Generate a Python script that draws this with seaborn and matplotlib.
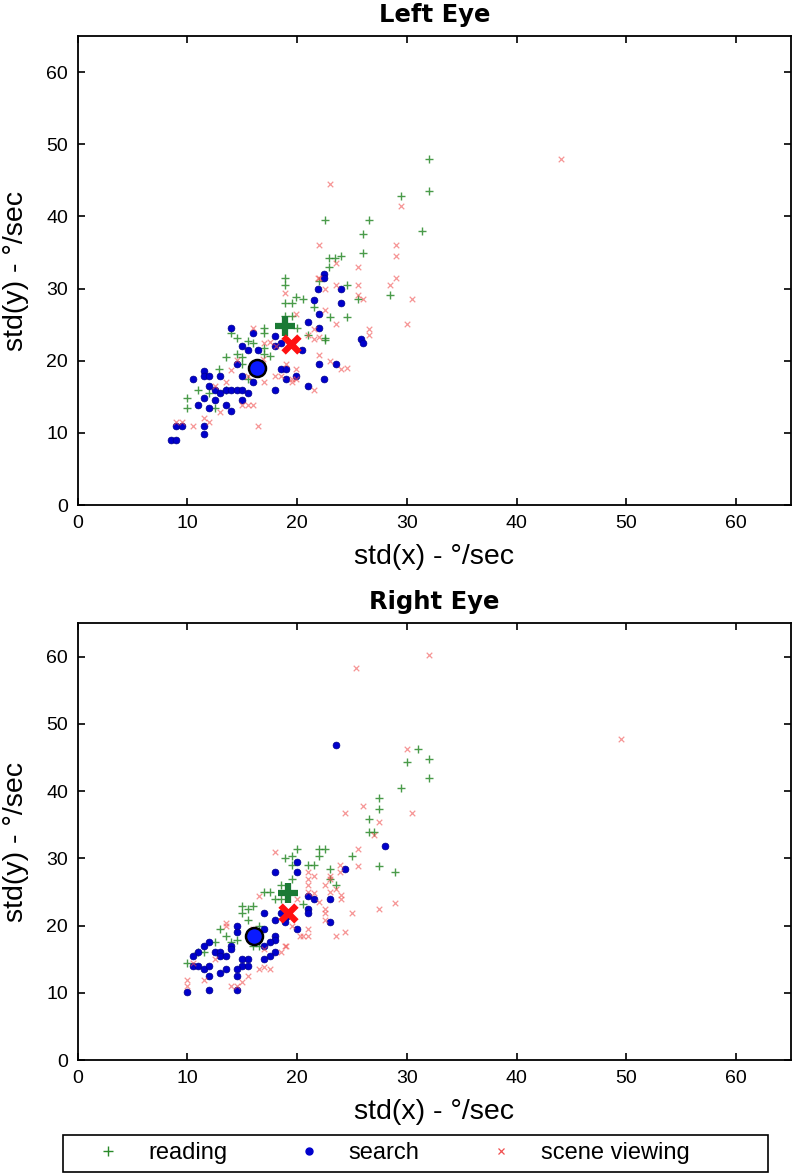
import numpy as np
import pandas as pd
import matplotlib.pyplot as plt
from matplotlib.patches import Rectangle
from matplotlib.lines import Line2D
import seaborn as sns

# ---- data (std(x), std(y) in deg/sec) ----
left_reading = [
    (32.0, 48.0), (32.0, 43.5), (29.5, 42.9), (22.5, 39.5), (26.5, 39.5), (26.0, 37.5),
    (31.4, 38.0), (26.0, 35.0), (22.9, 34.2), (23.4, 34.2), (22.9, 33.0), (24.0, 34.5),
    (22.0, 31.0), (24.5, 30.5), (25.5, 28.5), (28.5, 29.1), (20.5, 28.5), (21.5, 27.5),
    (23.0, 26.0), (24.5, 26.0), (22.5, 23.1), (21.0, 23.5), (18.9, 31.5), (18.9, 30.5),
    (19.9, 28.9), (18.9, 28.0), (19.5, 28.0), (18.9, 26.2), (19.5, 26.2), (20.0, 24.5),
    (14.0, 23.8), (17.0, 24.5), (17.0, 23.9), (14.5, 23.1), (22.5, 22.9), (17.0, 21.8),
    (17.0, 21.0), (17.5, 20.7), (13.5, 20.5), (14.5, 21.0), (15.0, 20.5), (15.0, 19.5),
    (12.9, 18.9), (10.0, 14.9), (10.0, 13.5), (12.5, 13.5), (15.5, 17.5), (13.5, 16.0),
    (16.0, 22.5), (15.5, 22.8), (12.0, 15.5), (11.0, 16.0),
]
left_search = [
    (22.4, 32.0), (22.4, 31.4), (21.9, 30.0), (24.0, 30.0), (21.5, 28.4), (24.0, 28.0),
    (22.0, 26.5), (21.0, 25.4), (14.0, 24.5), (16.0, 23.9), (22.0, 24.5), (18.0, 23.4),
    (18.0, 22.1), (18.5, 22.5), (15.0, 22.1), (15.5, 21.5), (16.4, 21.5), (20.4, 21.5),
    (14.5, 19.5), (18.5, 18.9), (19.0, 18.9), (22.0, 19.5), (23.5, 19.5), (11.5, 18.6),
    (11.5, 17.9), (12.0, 17.9), (13.0, 17.9), (10.5, 17.5), (15.0, 17.9), (16.0, 17.0),
    (19.0, 17.5), (19.9, 17.9), (22.4, 17.5), (21.0, 16.5), (12.0, 16.5), (12.5, 15.9),
    (13.0, 15.5), (13.5, 15.9), (14.0, 15.9), (14.5, 15.9), (15.0, 15.9), (15.5, 15.5),
    (18.0, 15.9), (11.5, 14.9), (11.0, 13.9), (12.0, 13.5), (12.5, 14.5), (13.5, 13.9),
    (14.0, 13.0), (15.0, 14.5), (9.0, 11.0), (9.5, 11.0), (11.5, 11.0), (11.5, 9.9),
    (8.5, 9.0), (9.0, 9.0), (25.8, 23.0), (26.0, 22.5),
]
left_scene = [
    (44.0, 48.0), (23.0, 44.5), (29.5, 41.5), (22.0, 36.0), (29.0, 36.0), (29.0, 34.5),
    (23.5, 33.5), (25.5, 33.0), (22.0, 31.4), (29.0, 31.4), (23.5, 30.5), (25.5, 30.5),
    (28.5, 30.5), (22.5, 30.0), (25.5, 29.1), (26.0, 28.5), (30.5, 28.5), (22.5, 27.0),
    (23.5, 25.1), (30.0, 25.1), (21.5, 24.4), (26.5, 24.4), (26.5, 23.5), (21.0, 23.5),
    (18.9, 29.4), (21.9, 31.4), (19.9, 26.5), (16.0, 24.5), (21.5, 23.0), (22.0, 23.3),
    (17.5, 22.6), (17.0, 22.4), (18.1, 22.1), (16.9, 20.2), (14.5, 20.1), (14.0, 18.7),
    (19.0, 19.6), (19.9, 18.9), (23.0, 19.9), (24.0, 18.9), (22.0, 20.8), (18.0, 17.9),
    (18.5, 17.9), (19.5, 17.5), (19.9, 17.5), (19.5, 17.0), (17.0, 17.0), (15.0, 13.9),
    (15.5, 13.9), (16.0, 13.9), (13.0, 12.9), (9.0, 11.5), (9.5, 11.5), (10.5, 11.0),
    (11.5, 12.0), (12.0, 11.5), (16.4, 11.0), (12.5, 16.5), (13.5, 17.0), (15.5, 17.9),
    (21.5, 16.0), (24.5, 19.0),
]

right_reading = [
    (31.0, 46.3), (30.0, 44.3), (32.0, 44.8), (32.0, 41.9), (29.5, 40.4), (27.5, 38.9),
    (27.5, 37.4), (26.5, 35.9), (26.5, 33.9), (27.0, 33.9), (25.0, 30.4), (27.5, 28.9),
    (28.9, 27.9), (23.0, 28.4), (20.0, 31.4), (22.0, 31.4), (22.5, 31.4), (22.0, 30.4),
    (19.5, 30.4), (18.9, 30.0), (19.5, 29.0), (21.0, 29.0), (21.5, 29.0), (19.5, 26.9),
    (18.5, 26.0), (17.0, 25.0), (17.5, 25.0), (23.5, 26.0), (23.0, 26.9), (20.5, 23.2),
    (18.0, 24.0), (18.5, 24.0), (15.5, 22.5), (16.0, 22.9), (15.0, 22.9), (15.0, 21.9),
    (15.5, 20.9), (16.5, 20.0), (13.0, 19.5), (13.5, 18.5), (14.0, 17.5), (14.5, 17.8),
    (16.0, 17.0), (16.5, 17.0), (11.0, 16.0), (11.5, 16.0), (10.0, 14.5), (12.5, 17.5),
]
right_search = [
    (23.5, 46.9), (28.0, 31.9), (24.4, 28.4), (20.0, 29.4), (18.0, 27.9), (20.0, 27.9),
    (21.0, 24.4), (21.5, 23.9), (23.0, 23.9), (21.0, 22.4), (21.0, 21.9), (23.0, 20.5),
    (20.0, 19.5), (17.0, 21.9), (18.0, 20.9), (18.9, 20.6), (18.5, 21.9), (19.0, 21.3),
    (14.5, 20.0), (14.5, 19.0), (17.0, 19.5), (18.0, 18.5), (18.0, 17.8), (17.5, 17.5),
    (17.0, 17.0), (18.0, 16.0), (12.0, 17.5), (11.5, 17.0), (11.0, 16.0), (10.5, 15.5),
    (10.5, 14.0), (11.0, 14.0), (11.5, 13.5), (12.0, 14.0), (12.5, 16.0), (13.0, 16.0),
    (13.0, 15.5), (13.5, 15.5), (14.0, 17.0), (14.0, 16.5), (13.0, 13.0), (15.0, 15.0),
    (15.5, 15.0), (15.0, 14.0), (15.5, 14.0), (14.5, 13.5), (13.5, 13.5), (12.0, 12.5),
    (14.5, 12.5), (17.0, 15.0), (17.5, 15.5), (10.0, 10.1), (12.0, 10.4), (14.5, 10.4),
]
right_scene = [
    (32.0, 60.3), (25.4, 58.3), (49.5, 47.8), (30.0, 46.3), (30.5, 36.8), (27.5, 35.4),
    (26.0, 37.8), (24.4, 36.8), (27.0, 33.5), (25.5, 31.4), (25.5, 28.9), (23.9, 29.0),
    (23.9, 27.9), (23.0, 27.3), (23.0, 26.9), (18.0, 30.9), (21.0, 27.9), (21.0, 26.9),
    (21.5, 27.3), (16.5, 24.4), (21.0, 26.0), (21.0, 25.0), (22.5, 26.0), (23.0, 25.0),
    (23.5, 25.4), (21.5, 24.9), (22.0, 23.5), (24.0, 23.9), (25.0, 21.9), (27.5, 22.4),
    (28.9, 23.4), (22.5, 22.4), (22.5, 21.9), (22.5, 20.9), (24.4, 19.0), (23.5, 18.5),
    (21.0, 19.5), (20.5, 18.5), (21.0, 18.5), (18.9, 16.9), (20.0, 24.0), (13.5, 20.4),
    (13.5, 20.0), (17.5, 13.5), (17.0, 13.9), (16.5, 13.5), (15.5, 12.5), (15.0, 11.6),
    (14.0, 11.0), (14.5, 11.0), (10.0, 11.9), (10.0, 11.0), (10.5, 14.5), (11.5, 11.9),
    (12.5, 15.0), (18.5, 16.0), (19.0, 17.0), (20.3, 18.5), (24.0, 24.5), (19.5, 20.0),
    (16.0, 19.5), (17.0, 16.5),
]

# group means (large markers)
left_means = {"reading": (18.85, 24.8), "search": (16.3, 19.0), "scene viewing": (19.4, 22.3)}
right_means = {"reading": (19.2, 24.9), "search": (16.1, 18.4), "scene viewing": (19.2, 21.9)}

titles = ["Left Eye", "Right Eye"]
ticks = [0, 10, 20, 30, 40, 50, 60]

GREEN = "#2a8a2a"
GREEN_BIG = "#1b7a35"
BLUE = "#0000cc"
RED = "#f05050"
RED_BIG = "#ff1010"

sns.set_theme(style="white")
plt.rcParams["font.family"] = ["Liberation Sans", "DejaVu Sans"]
plt.rcParams["text.color"] = "black"
plt.rcParams["axes.labelcolor"] = "black"
plt.rcParams["xtick.color"] = "black"
plt.rcParams["ytick.color"] = "black"


def to_df(points, label):
    df = pd.DataFrame(points, columns=["sx", "sy"])
    df["task"] = label
    return df


fig = plt.figure(figsize=(7.93, 11.74), dpi=100)
ax_top = fig.add_axes([0.098, 0.5698, 0.8995, 0.3995])
ax_bot = fig.add_axes([0.098, 0.0971, 0.8995, 0.3722])

panels = [
    (ax_top, left_reading, left_search, left_scene, left_means),
    (ax_bot, right_reading, right_search, right_scene, right_means),
]

for i, (ax, rd, se, sc, means) in enumerate(panels):
    d_read = to_df(rd, "reading")
    d_search = to_df(se, "search")
    d_scene = to_df(sc, "scene viewing")

    sns.scatterplot(data=d_read, x="sx", y="sy", ax=ax, marker="+", s=40,
                    color=GREEN, linewidth=1.0, alpha=0.85, legend=False)
    sns.scatterplot(data=d_search, x="sx", y="sy", ax=ax, marker="o", s=24,
                    color=BLUE, edgecolor="#00008b", linewidth=0.5, legend=False)
    sns.scatterplot(data=d_scene, x="sx", y="sy", ax=ax, marker="x", s=16,
                    color=RED, linewidth=0.9, alpha=0.6, legend=False)

    # means
    mr = pd.DataFrame([means["reading"]], columns=["sx", "sy"])
    ms = pd.DataFrame([means["search"]], columns=["sx", "sy"])
    mc = pd.DataFrame([means["scene viewing"]], columns=["sx", "sy"])
    sns.scatterplot(data=mr, x="sx", y="sy", ax=ax, marker="+", s=190,
                    color=GREEN_BIG, linewidth=4.5, legend=False, zorder=5)
    sns.scatterplot(data=ms, x="sx", y="sy", ax=ax, marker="o", s=150,
                    color="#0a1aff", edgecolor="black", linewidth=1.8, legend=False, zorder=5)
    sns.scatterplot(data=mc, x="sx", y="sy", ax=ax, marker="x", s=130,
                    color=RED_BIG, linewidth=4.5, legend=False, zorder=5)

    ax.set_xlim(0, 65)
    ax.set_ylim(0, 65)
    ax.set_xticks(ticks)
    ax.set_yticks(ticks)
    ax.tick_params(direction="in", length=5, width=1.2, colors="black",
                   labelsize=14, pad=7, top=True, right=True,
                   bottom=True, left=True)
    for sp in ax.spines.values():
        sp.set_visible(True)
        sp.set_color("black")
        sp.set_linewidth(1.3)
    ax.set_xlabel("std(x) - °/sec", fontsize=20.5, labelpad=9)
    ax.set_ylabel("std(y) - °/sec", fontsize=20.5, labelpad=12)
    ax.set_title(titles[i], fontsize=17.5, fontweight="bold", color="black",
                 family=["DejaVu Sans"], pad=10)

# legend along the bottom
handles = [
    Line2D([], [], linestyle="none", marker="+", color=GREEN, markersize=7, markeredgewidth=1),
    Line2D([], [], linestyle="none", marker="o", color=BLUE, markersize=5),
    Line2D([], [], linestyle="none", marker="x", color=RED, markersize=4, markeredgewidth=0.9),
]
fig.legend(handles, ["reading", "search", "scene viewing"], ncol=3,
           loc="center left", bbox_to_anchor=(63 / 793, 0.0175),
           frameon=False, fontsize=17, handlelength=3.0, handletextpad=0.2,
           columnspacing=1.95, borderpad=0.4, borderaxespad=0)
fig.add_artist(Rectangle((63 / 793, 2 / 1174), 705 / 793, 37 / 1174,
                         transform=fig.transFigure, fill=False,
                         edgecolor="black", linewidth=1.2))

fig.savefig("out.png", dpi=100)
